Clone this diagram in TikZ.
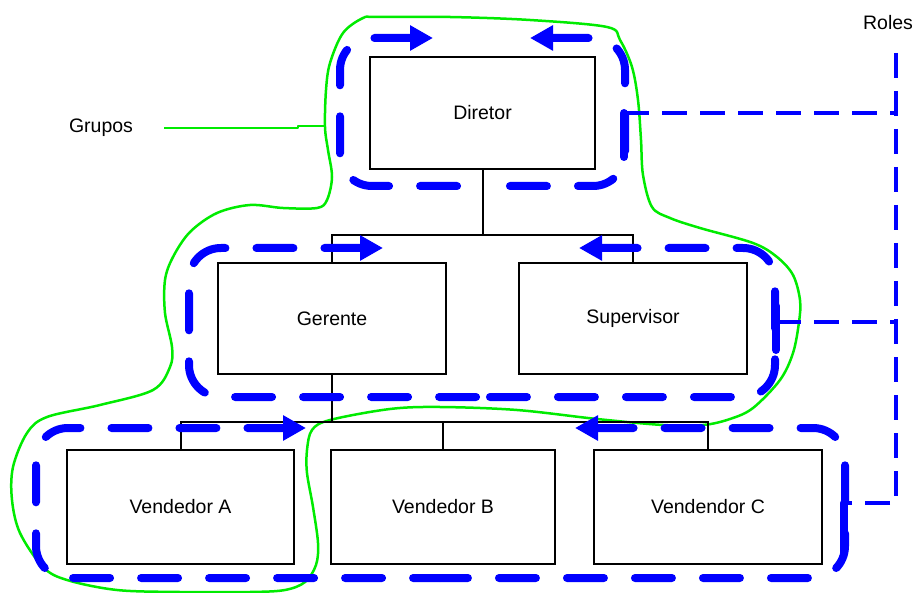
\documentclass[tikz,border=0pt]{standalone}
\usepackage{fontspec}
\setmainfont{Liberation Sans}
\usetikzlibrary{arrows.meta}
\definecolor{grpgreen}{RGB}{0,235,0}
\begin{document}
\begin{tikzpicture}[x=1pt,y=-1pt,
  box/.style={draw=black,line width=2pt,fill=white,font=\fontsize{19.5}{23}\selectfont,inner sep=0pt},
  lbl/.style={font=\fontsize{19.5}{23}\selectfont,inner sep=0pt},
  conn/.style={draw=black,line width=2pt},
  loop/.style={draw=blue,line width=8pt,line cap=round,dash pattern=on 37pt off 31pt,rounded corners=32pt,arrows={Triangle[length=23pt,width=24pt]-}},
  loopseg/.style={draw=blue,line width=8pt,line cap=round},
  roles/.style={draw=blue,line width=3.3pt,dash pattern=on 25pt off 13pt},
  grp/.style={draw=grpgreen,line width=2.5pt,line join=round}]
\useasboundingbox (0,0) rectangle (915,593);

% green group outline
\draw[grp] plot[smooth cycle,tension=0.55] coordinates {
 (377,17) (450,17) (530,20) (607,27) (620,40) (632,67) (638,100) (641,140) (643,175)
 (652,207) (670,218) (700,228) (753,243) (777,257) (793,275) (800,300) (799,322)
 (793,353) (780,380) (753,408) (730,419) (703,425) (663,425) (597,419) (517,410)
 (440,407) (390,409) (330,420) (312,430) (307,450) (307,473) (313,507) (318,543)
 (316,565) (305,582) (285,590) (250,592) (180,592) (117,590) (67,580) (43,567)
 (20,533) (12,500) (13,467) (27,433) (47,417) (100,405) (153,390) (170,367)
 (172,347) (165,313) (165,280) (173,257) (190,232) (217,213) (250,205) (283,208)
 (317,208) (327,200) (332,177) (328,150) (325,127) (326,90) (330,63) (343,33) (363,18)};

% labels
\node[lbl] (grupos) at (101,128) {Grupos};
\node[lbl] (roleslbl) at (888,23) {Roles};
\coordinate (g1) at (164,128);
\coordinate (g2) at (298,128);
\coordinate (g3) at (325,126);
\draw[grp,line width=2pt] (g1) -- (g2) -- (g2 |- g3) -- (g3);

% boxes
\node[box,minimum width=225pt,minimum height=112pt] (dir) at (482.5,113) {Diretor};
\node[box,minimum width=228pt,minimum height=111pt] (ger) at (332,318.5) {Gerente};
\node[box,minimum width=228pt,minimum height=111pt] (sup) at (633,318.5) {Supervisor};
\node[box,minimum width=227pt,minimum height=114pt] (va) at (180.5,507) {Vendedor A};
\node[box,minimum width=224pt,minimum height=114pt] (vb) at (443,507) {Vendedor B};
\node[box,minimum width=228pt,minimum height=114pt] (vc) at (708,507) {Vendendor C};

% connectors
\coordinate (bus1) at (482.5,235);
\coordinate (bus2) at (332,422);
\draw[conn] (dir.south) -- (bus1);
\draw[conn] (ger.north) |- (bus1);
\draw[conn] (sup.north) |- (bus1);
\draw[conn] (ger.south) -- (bus2);
\draw[conn] (va.north) |- (bus2);
\draw[conn] (vc.north) |- (bus2);
\draw[conn] (vb.north) -- (vb.north |- bus2);

% blue role loops
\draw[loop] (433,38) -- (340,38) -- (340,186) -- (482,186);
\draw[loop] (530,38) -- (625,38) -- (625,186) -- (482,186);
\draw[loop] (383,248) -- (189,248) -- (189,397) -- (480,397);
\draw[loop] (579,248) -- (775,248) -- (775,397) -- (480,397);
\draw[loop] (306,428) -- (36,428) -- (36,578) -- (440,578);
\draw[loop] (575,428) -- (845,428) -- (845,578) -- (440,578);

% roles connections
\coordinate (rtop) at (896,53);
\coordinate (rbot) at (896,503);
\coordinate (r1) at (624,113);
\coordinate (r2) at (776,322);
\coordinate (r3) at (844,503);
\draw[loopseg] (624,113) -- (624,157);
\draw[loopseg] (776,306) -- (776,350);
\draw[loopseg] (844,503) -- (844,553);
\draw[roles] (rtop) -- (rbot) -- (r3);
\draw[roles] (r1) -- (r1 -| rtop);
\draw[roles] (r2) -- (r2 -| rtop);
\end{tikzpicture}
\end{document}
